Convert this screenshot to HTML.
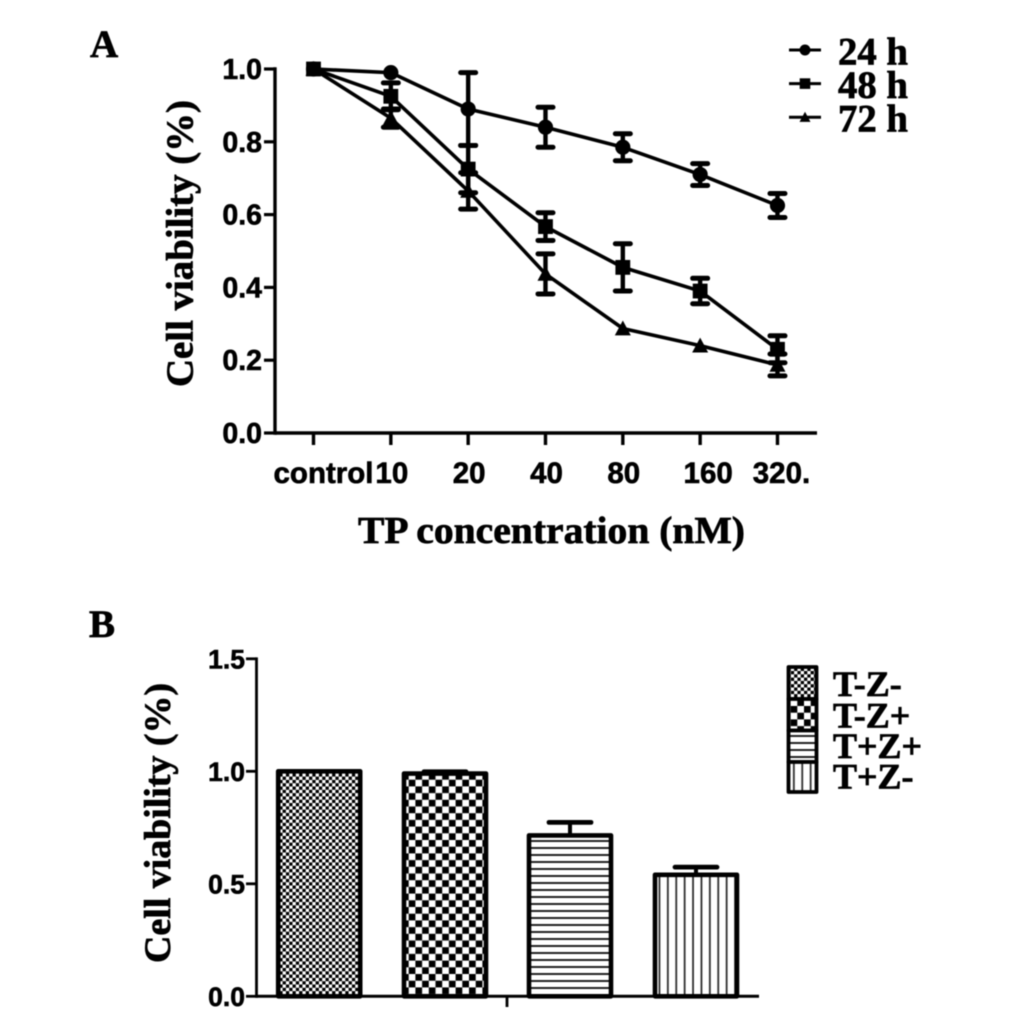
<!DOCTYPE html>
<html lang="en">
<head>
<meta charset="utf-8">
<title>Cell viability charts</title>
<style>
html,body{margin:0;padding:0;background:#fff;}
svg{display:block;}
.serif{font-family:"Liberation Serif",serif;font-weight:bold;fill:#000;stroke:#000;stroke-width:0.7px;}
.sans{font-family:"Liberation Sans",sans-serif;font-weight:bold;fill:#000;stroke:#000;stroke-width:0.6px;}
</style>
</head>
<body>
<svg id="fig" xmlns="http://www.w3.org/2000/svg" width="1033" height="1036" viewBox="0 0 1033 1036">
<defs>
<pattern id="p-fine" patternUnits="userSpaceOnUse" x="276" y="770" width="6.6" height="6.6">
<rect width="6.6" height="6.6" fill="#fff"/><rect width="3.3" height="3.3" fill="#000"/><rect x="3.3" y="3.3" width="3.3" height="3.3" fill="#000"/>
</pattern>
<pattern id="p-check" patternUnits="userSpaceOnUse" x="402" y="773" width="13.4" height="13.4">
<rect width="13.4" height="13.4" fill="#fff"/><rect width="6.7" height="6.7" fill="#000"/><rect x="6.7" y="6.7" width="6.7" height="6.7" fill="#000"/>
</pattern>
<pattern id="p-horiz" patternUnits="userSpaceOnUse" x="0" y="835" width="7" height="7">
<rect width="7" height="7" fill="#fff"/><rect y="5" width="7" height="2" fill="#222"/>
</pattern>
<pattern id="p-vert" patternUnits="userSpaceOnUse" x="653" y="0" width="8.4" height="8.4">
<rect width="8.4" height="8.4" fill="#fff"/><rect x="5.6" width="1.7" height="8.4" fill="#222"/>
</pattern>
</defs>
<g id="root" style="filter:blur(0.45px)">
<text class="serif" x="90" y="57" font-size="39">A</text>
<text class="serif" x="89" y="637" font-size="39">B</text>
<text class="serif" transform="translate(192.5,387) rotate(-90)" font-size="38" textLength="287" lengthAdjust="spacingAndGlyphs">Cell viability (%)</text>
<text class="serif" x="358" y="543" font-size="38" textLength="387" lengthAdjust="spacingAndGlyphs">TP concentration (nM)</text>
<text class="serif" transform="translate(170,963) rotate(-90)" font-size="37" textLength="280" lengthAdjust="spacingAndGlyphs">Cell viability (%)</text>
</g>
</svg>
<script>
// Panel A data
var lineCategories = ['control', '10', '20', '40', '80', '160', '320.'];
var lineTicks = [0, 0.2, 0.4, 0.6, 0.8, 1.0];
var seriesNames = ['24 h', '48 h', '72 h'];
var values24h = [1.0, 0.99, 0.89, 0.84, 0.785, 0.71, 0.625];
var errors24h = [0, 0, 0.1, 0.055, 0.037, 0.03, 0.033];
var values48h = [1.0, 0.925, 0.725, 0.567, 0.455, 0.39, 0.23];
var errors48h = [0, 0.037, 0.065, 0.038, 0.065, 0.035, 0.037];
var values72h = [1.0, 0.865, 0.665, 0.437, 0.287, 0.24, 0.187];
var errors72h = [0, 0.025, 0.05, 0.055, 0, 0, 0.03];
// Panel B data
var barNames = ['T-Z-', 'T-Z+', 'T+Z+', 'T+Z-'];
var barValues = [1.0, 0.99, 0.715, 0.54];
var barErrors = [0, 0.008, 0.058, 0.034];
var barTicks = [0, 0.5, 1.0, 1.5];

var NS = 'http://www.w3.org/2000/svg';
var root = document.getElementById('root');
function mk(tag, attrs, parent) {
  var el = document.createElementNS(NS, tag);
  for (var k in attrs) { el.setAttribute(k, attrs[k]); }
  (parent || root).appendChild(el);
  return el;
}
function line(x1, y1, x2, y2, w, parent, cap) {
  return mk('line', {x1: x1, y1: y1, x2: x2, y2: y2, stroke: '#000', 'stroke-width': w, 'stroke-linecap': cap || 'butt'}, parent);
}
function label(txt, x, y, size, cls, anchor, parent) {
  var t = mk('text', {x: x, y: y, 'font-size': size, 'class': cls, 'text-anchor': anchor || 'start'}, parent);
  t.textContent = txt;
  return t;
}
function marker(kind, x, y, s, parent) {
  if (kind === 0) { return mk('circle', {cx: x, cy: y, r: s, fill: '#000'}, parent); }
  if (kind === 1) { return mk('rect', {x: x - s, y: y - s, width: 2 * s, height: 2 * s, fill: '#000'}, parent); }
  return mk('polygon', {points: (x - s) + ',' + (y + s * 0.85) + ' ' + (x + s) + ',' + (y + s * 0.85) + ' ' + x + ',' + (y - s), fill: '#000'}, parent);
}

// ---- Panel A scales
function ax(i) { return 313.5 + i * 77.33; }
function ay(v) { return 433 - v * 364; }

var aAxes = mk('g', {});


line(275, ay(1) - 1.7, 275, ay(0) + 1.7, 3.4, aAxes);
line(275, ay(0), 817, ay(0), 3.4, aAxes);
lineTicks.forEach(function (v) {
  var tick = line(264, ay(v), 275, ay(v), 3.2, aAxes);
  
  
  var tl = label(v.toFixed(1), 262, ay(v) + 10, 28.5, 'sans', 'end', aAxes);
  
  
});
lineCategories.forEach(function (c, i) {
  var tick = line(ax(i), ay(0), ax(i), 445, 3.4, aAxes);
  
  
  var offset = i === 0 ? 10 : (i === 6 ? 4 : (i === 5 ? 8 : 1));
  var tl = label(c, ax(i) + offset, 483, 29.5, 'sans', 'middle', aAxes);
  
  
});

function drawSeries(vals, errs, kind, name) {
  var g = mk('g', {});
  
  
  var pts = vals.map(function (v, i) { return ax(i) + ',' + ay(v); }).join(' ');
  var pl = mk('polyline', {points: pts, fill: 'none', stroke: '#000', 'stroke-width': 3.6, 'stroke-linejoin': 'round'}, g);
  
  
  vals.forEach(function (v, i) {
    if (errs[i] > 0) {
      var eb = mk('g', {}, g);
      
      
      line(ax(i), ay(v + errs[i]), ax(i), ay(v - errs[i]), 4.4, eb);
      line(ax(i) - 7.5, ay(v + errs[i]), ax(i) + 7.5, ay(v + errs[i]), 5, eb, 'round');
      line(ax(i) - 7.5, ay(v - errs[i]), ax(i) + 7.5, ay(v - errs[i]), 5, eb, 'round');
    }
    var m = marker(kind, ax(i), ay(v), kind === 1 ? 7.4 : (kind === 0 ? 7.6 : 8), g);
    
    
  });
}
drawSeries(values72h, errors72h, 2, 'series-72h');
drawSeries(values24h, errors24h, 0, 'series-24h');
drawSeries(values48h, errors48h, 1, 'series-48h');

// Panel A legend
seriesNames.forEach(function (n, i) {
  var y = 50 + i * 33.6;
  var g = mk('g', {});
  
  
  line(789, y, 821, y, 3, g);
  marker(i, 805, y, i === 1 ? 5.3 : 5.5, g);
  var t = label(n, 838, y + 14.5, 39, 'serif', 'start', g);
  t.setAttribute('textLength', '70');
  t.setAttribute('lengthAdjust', 'spacingAndGlyphs');
});

// ---- Panel B scales
function by(v) { return 996.3 - v * 225; }
var barLeft = [278.2, 404, 529, 655];
var barWidth = 82;
var fills = ['url(#p-fine)', 'url(#p-check)', 'url(#p-horiz)', 'url(#p-vert)'];

barValues.forEach(function (v, i) {
  var g = mk('g', {});
  
  
  var cx = barLeft[i] + barWidth / 2;
  if (barErrors[i] > 0) {
    line(cx, by(v), cx, by(v + barErrors[i]), 4, g);
    line(cx - 21, by(v + barErrors[i]), cx + 21, by(v + barErrors[i]), 4.8, g, 'round');
  }
  mk('rect', {x: barLeft[i], y: by(v), width: barWidth, height: by(0) - by(v), fill: fills[i], stroke: '#000', 'stroke-width': 4.6, 'stroke-linejoin': 'round'}, g);
});

var bAxes = mk('g', {});


line(256.5, by(1.5) - 1.4, 256.5, by(0) + 1.4, 2.8, bAxes);
line(256.5, by(0), 759, by(0), 3, bAxes);
line(507, by(0), 507, 1007, 2.8, bAxes);
barTicks.forEach(function (v) {
  var tick = line(246, by(v), 256.5, by(v), 2.8, bAxes);
  
  
  var tl = label(v.toFixed(1), 245, by(v) + 9.5, 26.5, 'sans', 'end', bAxes);
  
  
});

// Panel B legend
var legendTop = [667, 699, 730.5, 762];
barNames.forEach(function (n, i) {
  var g = mk('g', {});
  
  
  var h = (i === 3 ? 792 : legendTop[i + 1]) - legendTop[i];
  mk('rect', {x: 788.5, y: legendTop[i], width: 28, height: h, fill: fills[i], stroke: '#000', 'stroke-width': 3.8, 'stroke-linejoin': 'round'}, g);
  label(n, 833, [696, 727.5, 758, 788.5][i], 36, 'serif', 'start', g);
});
</script>
</body>
</html>
